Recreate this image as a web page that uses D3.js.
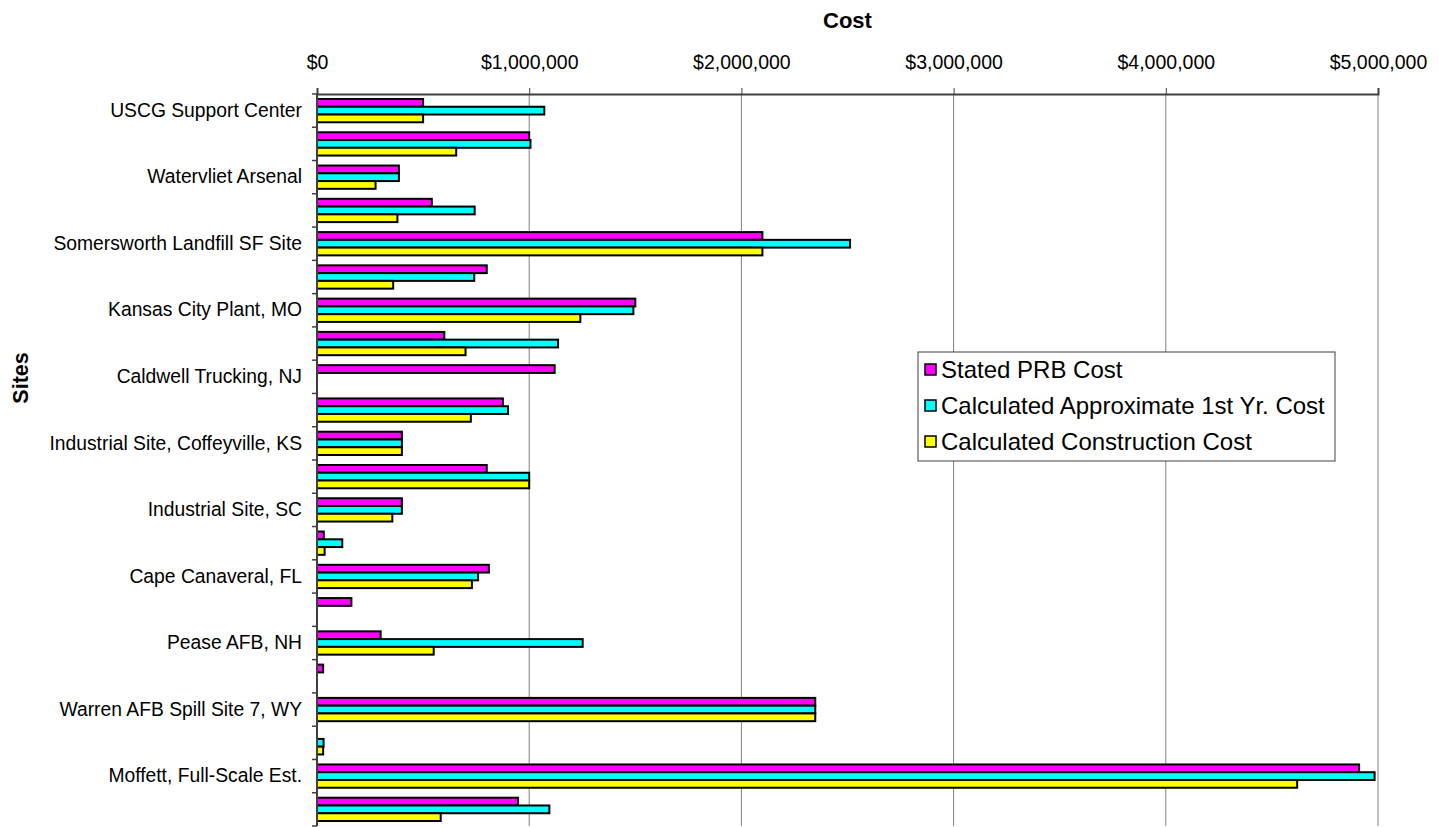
<!DOCTYPE html>
<html>
<head>
<meta charset="utf-8">
<script src="https://cdn.jsdelivr.net/npm/d3@7"></script>
<style>
  body { margin: 0; background: #fff; }
  text { font-family: "Liberation Sans", Arial, sans-serif; }
</style>
</head>
<body>
<div id="chart"></div>
<script>
// sites (every other label is hidden in the original)
var sites = ["USCG Support Center", "", "Watervliet Arsenal", "", "Somersworth Landfill SF Site", "",
  "Kansas City Plant, MO", "", "Caldwell Trucking, NJ", "", "Industrial Site, Coffeyville, KS", "",
  "Industrial Site, SC", "", "Cape Canaveral, FL", "", "Pease AFB, NH", "",
  "Warren AFB Spill Site 7, WY", "", "Moffett, Full-Scale Est.", ""];

var seriesNames = ["Stated PRB Cost", "Calculated Approximate 1st Yr. Cost", "Calculated Construction Cost"];
var seriesColors = ["#ff00ff", "#00ffff", "#ffff00"];

var statedPRB = [500000, 1000000, 386000, 541000, 2099000, 800000, 1500000, 600000, 1120000, 876000, 400000,
  800000, 400000, 32000, 810000, 162000, 300000, 29000, 2348000, null, 4911000, 947000];
var firstYear = [1071000, 1006000, 386000, 743000, 2512000, 741000, 1491000, 1136000, null, 900000, 400000,
  1000000, 400000, 119000, 759000, null, 1252000, null, 2348000, 31000, 4984000, 1095000];
var construction = [500000, 656000, 276000, 379000, 2099000, 359000, 1241000, 700000, null, 725000, 400000,
  1000000, 355000, 36000, 730000, null, 550000, null, 2348000, 29000, 4619000, 583000];

var xTicks = [0, 1000000, 2000000, 3000000, 4000000, 5000000];

var series = [statedPRB, firstYear, construction];

var W = 1439, H = 827;
var margin = {left: 317, right: 1378, top: 94, bottom: 826};

var svg = d3.select("#chart").append("svg")
  .attr("width", W)
  .attr("height", H);

var x = d3.scaleLinear().domain([0, 5000000]).range([margin.left, margin.right]);

var y = d3.scaleBand()
  .domain(d3.range(sites.length))
  .range([margin.top, margin.bottom])
  .paddingInner(0.3)
  .paddingOuter(0.15);

var yIn = d3.scaleBand()
  .domain(d3.range(series.length))
  .range([0, y.bandwidth()]);

// gridlines
svg.append("g")
  .selectAll("line")
  .data(xTicks.slice(1))
  .enter()
  .append("line")
    .attr("x1", function(d){ return x(d); })
    .attr("x2", function(d){ return x(d); })
    .attr("y1", margin.top)
    .attr("y2", margin.bottom)
    .attr("stroke", "#808080")
    .attr("stroke-width", 1);

// bars
series.forEach(function(vals, s) {
  svg.append("g")
    .selectAll("rect")
    .data(vals.map(function(v, i){ return {i: i, v: v}; }).filter(function(d){ return d.v != null; }))
    .enter()
    .append("rect")
      .attr("x", x(0))
      .attr("y", function(d){ return y(d.i) + yIn(s); })
      .attr("width", function(d){ return x(d.v) - x(0); })
      .attr("height", yIn.bandwidth())
      .attr("fill", seriesColors[s])
      .attr("stroke", "#000")
      .attr("stroke-width", 2);
});

// top axis
var xAxis = svg.append("g")
  .attr("transform", "translate(0," + margin.top + ")")
  .call(d3.axisTop(x)
    .tickValues(xTicks)
    .tickSize(6)
    .tickPadding(19)
    .tickFormat(function(d){ return "$" + d3.format(",")(d); }));
xAxis.select(".domain").attr("stroke", "#404040").attr("stroke-width", 2);
xAxis.selectAll(".tick line").attr("stroke", "#404040");
xAxis.selectAll("text").attr("font-size", 19.5).attr("fill", "#000")
  .style("font-family", "Liberation Sans, Arial, sans-serif");

// left axis: labels in the middle of each group, ticks at group boundaries
var yAxis = svg.append("g")
  .attr("transform", "translate(" + margin.left + ",0)")
  .call(d3.axisLeft(y)
    .tickSize(0)
    .tickPadding(15)
    .tickFormat(function(i){ return sites[i]; }));
yAxis.select(".domain").remove();
yAxis.selectAll("text").attr("font-size", 19.3).attr("fill", "#000")
  .style("font-family", "Liberation Sans, Arial, sans-serif");

var step = y.step();
svg.append("g")
  .selectAll("line")
  .data(d3.range(sites.length + 1))
  .enter()
  .append("line")
    .attr("x1", margin.left - 5)
    .attr("x2", margin.left)
    .attr("y1", function(i){ return margin.top + i * step; })
    .attr("y2", function(i){ return margin.top + i * step; })
    .attr("stroke", "#404040")
    .attr("stroke-width", 1.5);

svg.append("line")
  .attr("x1", margin.left).attr("x2", margin.left)
  .attr("y1", margin.top).attr("y2", margin.bottom)
  .attr("stroke", "#404040")
  .attr("stroke-width", 2);

// axis titles
svg.append("text")
  .attr("x", (margin.left + margin.right) / 2)
  .attr("y", 28)
  .attr("text-anchor", "middle")
  .attr("font-size", 22)
  .attr("font-weight", "bold")
  .text("Cost");

svg.append("text")
  .attr("transform", "translate(28,378) rotate(-90)")
  .attr("text-anchor", "middle")
  .attr("font-size", 21.5)
  .attr("font-weight", "bold")
  .text("Sites");

// legend
var lg = svg.append("g").attr("transform", "translate(918,352)");
lg.append("rect")
  .attr("width", 417)
  .attr("height", 109)
  .attr("fill", "#fff")
  .attr("stroke", "#404040")
  .attr("stroke-width", 1);

var items = lg.selectAll(".item")
  .data(seriesNames)
  .enter()
  .append("g")
    .attr("transform", function(d, i){ return "translate(0," + (18 + i * 36) + ")"; });
items.append("rect")
  .attr("x", 7)
  .attr("y", -6)
  .attr("width", 11)
  .attr("height", 11)
  .attr("fill", function(d, i){ return seriesColors[i]; })
  .attr("stroke", "#000")
  .attr("stroke-width", 1.5);
items.append("text")
  .attr("x", 23)
  .attr("y", 8)
  .attr("font-size", 24)
  .text(function(d){ return d; });
</script>
</body>
</html>
